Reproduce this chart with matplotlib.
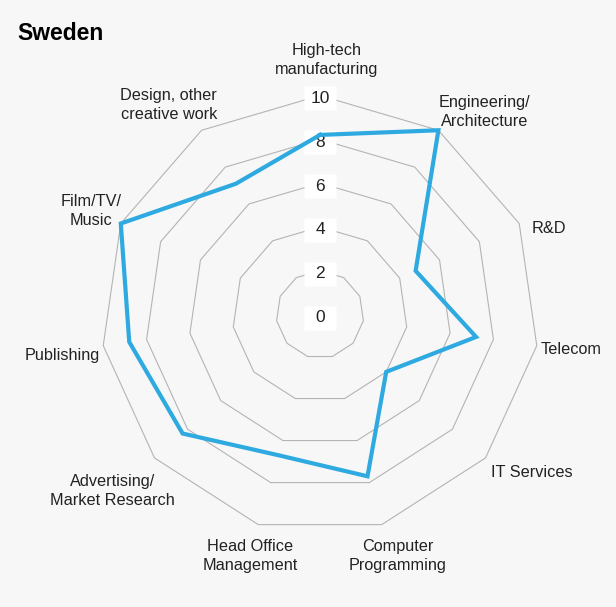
import numpy as np
import matplotlib
matplotlib.use("Agg")
import matplotlib.pyplot as plt

# ---- data ----
title = "Sweden"
categories = ["High-tech\nmanufacturing", "Engineering/\nArchitecture", "R&D", "Telecom",
              "IT Services", "Computer\nProgramming", "Head Office\nManagement",
              "Advertising/\nMarket Research", "Publishing", "Film/TV/\nMusic",
              "Design, other\ncreative work"]
values = [8.2, 10, 4.8, 7.2, 4.0, 7.7, 6.7, 8.3, 8.8, 10, 7.1]
ring_values = [2, 4, 6, 8, 10]
tick_values = [0, 2, 4, 6, 8, 10]
tick_labels = ["0", "2", "4", "6", "8", "10"]

# ---- style / layout ----
bg = "#f7f7f7"
grid_col = "#b4b4b4"
line_col = "#2eaae1"
text_col = "#222222"
font = "Liberation Sans"

# label placement: (ha, dx_px, dy_px) offsets from outer ring vertex
label_style = [("center", 7, 35.5), ("left", 0, 18.3), ("left", 12, -4.5),
               ("left", 4, -4.3), ("left", 5.5, -15), ("center", 16, -31.5),
               ("center", -8.5, -31.5), ("right", 20.5, -33), ("right", -3, -10),
               ("right", 1, 12.5), ("right", 15.5, 25.3)]

W, H = 616, 607
fig = plt.figure(figsize=(W / 100, H / 100), dpi=100, facecolor=bg)
cx, cy, R = 320, 314.5, 219
ax = fig.add_axes([(cx - R) / W, (H - cy - R) / H, 2 * R / W, 2 * R / H], projection="polar")
ax.set_facecolor("none")
ax.set_theta_zero_location("N")
ax.set_theta_direction(-1)
ax.set_ylim(0, 10)
ax.grid(False)
ax.set_xticks([])
ax.set_yticks([])
ax.spines["polar"].set_visible(False)

n = len(categories)
angles = np.arange(n) * 2 * np.pi / n
closed = np.append(angles, angles[0])

for rv in ring_values:
    ax.plot(closed, [rv] * (n + 1), color=grid_col, lw=0.8, zorder=1, clip_on=False)

box_marker = [(-15, -11.5), (15, -11.5), (15, 11.5), (-15, 11.5), (-15, -11.5)]
for v, t in zip(tick_values, tick_labels):
    ax.plot([0], [v], marker=box_marker, ms=22.5, color="white", mec="none",
            linestyle="none", zorder=2, clip_on=False,
            transform=ax.transData + matplotlib.transforms.ScaledTranslation(0, -3 / 100, fig.dpi_scale_trans))
    ax.annotate(t, xy=(0, v), xytext=(0, -3), textcoords="offset pixels",
                ha="center", va="center", fontsize=12.5, family=font, color=text_col, zorder=3)

vals_closed = values + values[:1]
ax.plot(closed, vals_closed, color=line_col, lw=3.0, zorder=4, clip_on=False,
        solid_joinstyle="miter")

for ang, lab, (ha, dx, dy) in zip(angles, categories, label_style):
    ax.annotate(lab, xy=(ang, 10), xytext=(dx, dy), textcoords="offset pixels",
                ha=ha, va="center", multialignment="center", fontsize=11.7,
                family=font, color=text_col, linespacing=1.3, annotation_clip=False)

fig.text(17 / W, 1 - 34 / H, title, fontsize=16.5, fontweight="bold", family=font,
         color="black", ha="left", va="center")

fig.savefig("out.png", dpi=100, facecolor=bg)
